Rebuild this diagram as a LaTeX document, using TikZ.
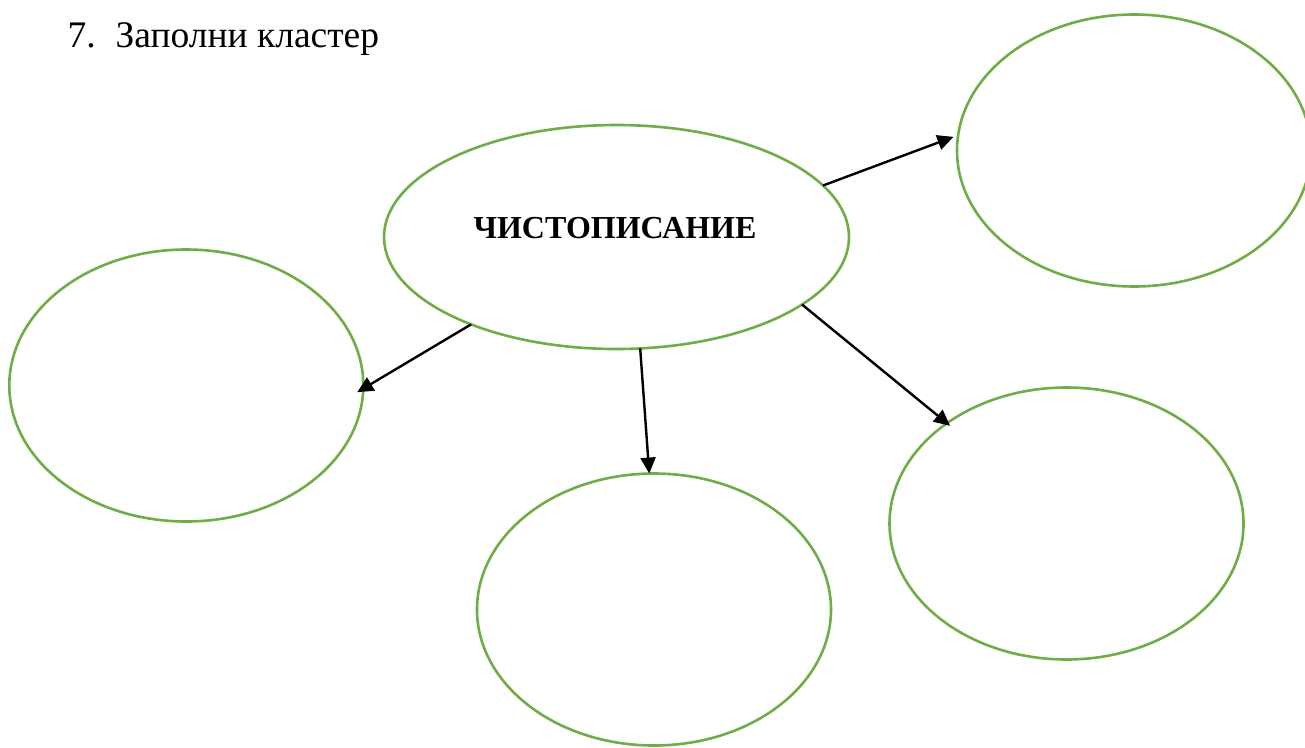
\documentclass[tikz,border=0pt]{standalone}
\usepackage{fontspec}
\setmainfont{Liberation Serif}
\usetikzlibrary{shapes.geometric,arrows.meta}
\definecolor{ogreen}{HTML}{70AD47}
\tikzset{
  bubble/.style={draw=ogreen, line width=2.6pt, ellipse, inner sep=0pt, outer sep=0pt,
    minimum width=354pt, minimum height=272pt},
  link/.style={draw=black, line width=2.4pt, -{Triangle[length=16pt,width=15pt]}}
}
\begin{document}
\begin{tikzpicture}[x=1pt,y=1pt]
\clip (0,0) rectangle (1305,-747);
\fill[white] (0,0) rectangle (1305,-747);
\node[anchor=base west, inner sep=0pt, font=\fontsize{37.5}{40}\selectfont] (title) at (67.3,-47) {7.\hspace{20pt}Заполни кластер};
\node[bubble, minimum width=465pt, minimum height=224pt] (c) at (616.5,-237) {};
\node[anchor=base, inner sep=0pt, font=\fontsize{32}{36}\selectfont\bfseries] (ctext) at (615,-238.3) {ЧИСТОПИСАНИЕ};
\node[bubble] (tr) at (1134,-150.5) {};
\node[bubble] (l) at (186.3,-385.5) {};
\node[bubble] (b) at (654,-609.5) {};
\node[bubble] (br) at (1066.5,-523.5) {};
\draw[link, shorten >=5pt] (c.14.4) -- (tr.175.7);
\draw[link, shorten >=-7pt] (c.211.3) -- (l.-1.5);
\draw[link] (c.-78) -- (b.92);
\draw[link, shorten >=-4pt] (c.-20.2) -- (br.140);
\end{tikzpicture}
\end{document}
